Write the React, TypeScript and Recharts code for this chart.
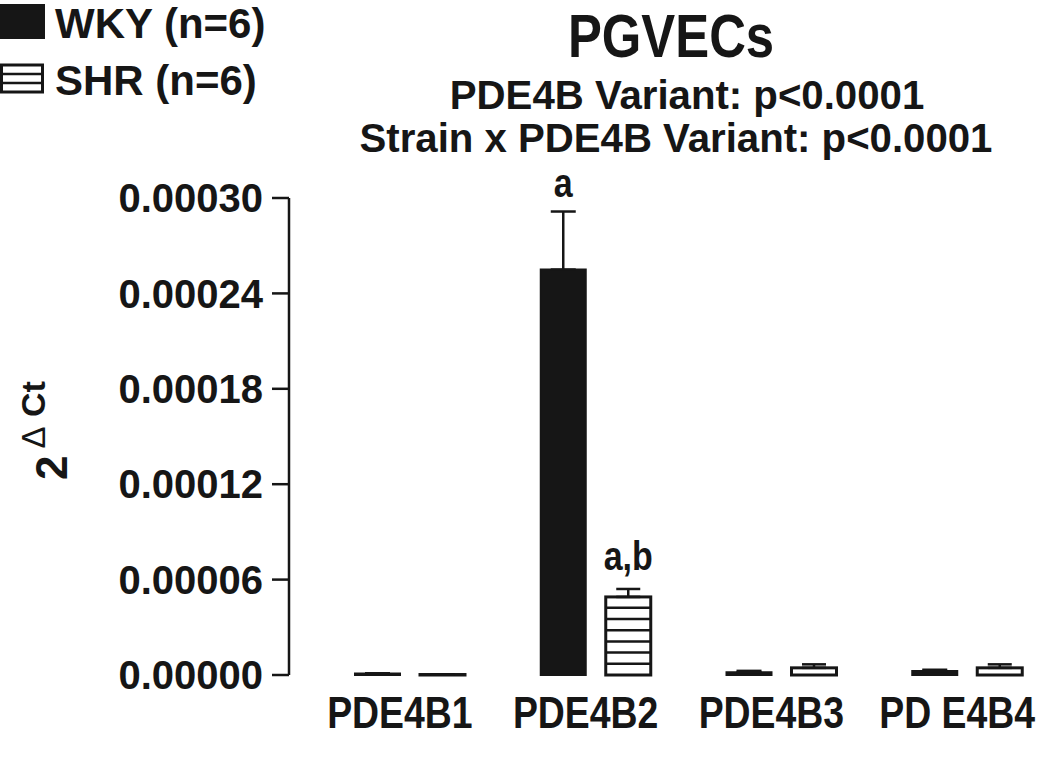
import { Bar, BarChart, ErrorBar, Label, LabelList, XAxis, YAxis } from 'recharts'

const INK = '#161616'
const FONT = "'Liberation Sans', Arial, sans-serif"

const categories = ['PDE4B1', 'PDE4B2', 'PDE4B3', 'PDE4B4']
const tickLabels = ['PDE4B1', 'PDE4B2', 'PDE4B3', 'PD E4B4']
const wky = [0.000001, 0.000255, 0.0000018, 0.0000025]
const wkySem = [0, 0.0000365, 0.0000008, 0.0000008]
const shr = [0.0000003, 0.0000491, 0.0000045, 0.0000045]
const shrSem = [0, 0.000005, 0.0000022, 0.0000022]
const wkyMarks = ['', 'a', '', '']
const shrMarks = ['', 'a,b', '', '']
const yTicks = [0, 0.00006, 0.00012, 0.00018, 0.00024, 0.0003]

const data = categories.map((name, i) => ({
  name,
  wky: wky[i],
  wkyErr: [0, wkySem[i]],
  wkyMark: wkyMarks[i],
  shr: shr[i],
  shrErr: [0, shrSem[i]],
  shrMark: shrMarks[i],
}))

const HATCH = 11.2

// white bar with horizontal stripes counted up from the baseline
function HatchBar(props: any) {
  const { x, y, width, height } = props
  const lines = []
  for (let ly = y + height - HATCH; ly > y + 3; ly -= HATCH) {
    lines.push(<line key={ly} x1={x} x2={x + width} y1={ly} y2={ly} stroke={INK} strokeWidth={2.5} />)
  }
  return (
    <g>
      <rect x={x} y={y} width={width} height={height} fill="#fff" stroke={INK} strokeWidth={3} />
      {lines}
    </g>
  )
}

function CategoryTick({ x, y, payload }: any) {
  return (
    <text
      transform={`translate(${x - 10},${y + 53}) scale(0.85,1)`}
      textAnchor="middle"
      fontSize={44}
      fontWeight="bold"
      fontFamily={FONT}
      fill={INK}
    >
      {tickLabels[payload.index]}
    </text>
  )
}

function YLabel({ viewBox }: any) {
  const cy = viewBox.y + viewBox.height / 2 - 6
  const bx = viewBox.x + 67
  return (
    <text
      transform={`translate(${bx},${cy}) rotate(-90)`}
      textAnchor="middle"
      fontFamily={FONT}
      fontWeight="bold"
      fill={INK}
    >
      <tspan fontSize={44}>2</tspan>
      <tspan dy={-22} dx={7} fontSize={33} fontWeight="normal">Δ</tspan>
      <tspan fontSize={34}> Ct</tspan>
    </text>
  )
}

const markLabel = (offset: number) => (props: any) => {
  const { x, y, width, value } = props
  if (!value) return null
  return (
    <text
      transform={`translate(${x + width / 2},${y - offset}) scale(0.85,1)`}
      textAnchor="middle"
      fontSize={40}
      fontWeight="bold"
      fontFamily={FONT}
      fill={INK}
    >
      {value}
    </text>
  )
}

export default function App() {
  return (
    <div style={{ position: 'absolute', left: 0, top: 0, width: 1050, height: 764, background: '#fff' }}>
      <BarChart
        width={1050}
        height={764}
        data={data}
        margin={{ top: 198, right: 0, bottom: 29, left: 0 }}
        barSize={45}
        barGap={20}
      >
        <XAxis
          dataKey="name"
          axisLine={false}
          tickLine={false}
          tickSize={0}
          tickMargin={0}
          height={60}
          padding={{ left: 28, right: -10 }}
          tick={<CategoryTick />}
          interval={0}
        />
        <YAxis
          width={289}
          domain={[0, 0.0003]}
          ticks={yTicks}
          interval={0}
          tickFormatter={(v: number) => v.toFixed(5)}
          tickSize={17}
          tickMargin={9}
          axisLine={{ stroke: INK, strokeWidth: 2.5 }}
          tickLine={{ stroke: INK, strokeWidth: 2.5 }}
          tick={{ fontSize: 40, fontWeight: 'bold', fontFamily: FONT, fill: INK }}
        >
          <Label content={<YLabel />} />
        </YAxis>
        <Bar dataKey="wky" fill={INK} stroke={INK} strokeWidth={2} isAnimationActive={false}>
          <ErrorBar dataKey="wkyErr" direction="y" width={12.5} stroke={INK} strokeWidth={2.5} />
          <LabelList dataKey="wkyMark" content={markLabel(73)} />
        </Bar>
        <Bar dataKey="shr" shape={<HatchBar />} isAnimationActive={false}>
          <ErrorBar dataKey="shrErr" direction="y" width={12} stroke={INK} strokeWidth={2.5} />
          <LabelList dataKey="shrMark" content={markLabel(27)} />
        </Bar>
      </BarChart>
      <svg
        width={1050}
        height={764}
        style={{ position: 'absolute', left: 0, top: 0, pointerEvents: 'none' }}
        fontFamily={FONT}
        fontWeight="bold"
        fill={INK}
      >
        <text transform="translate(671,57) scale(0.82,1)" textAnchor="middle" fontSize={62}>
          PGVECs
        </text>
        <text transform="translate(687,109) scale(0.98,1)" textAnchor="middle" fontSize={41}>
          PDE4B Variant: p&lt;0.0001
        </text>
        <text transform="translate(676,152) scale(0.98,1)" textAnchor="middle" fontSize={41}>
          Strain x PDE4B Variant: p&lt;0.0001
        </text>
        <rect x={0} y={4} width={45} height={35} fill={INK} />
        <text x={55} y={38} fontSize={42}>WKY (n=6)</text>
        <rect x={1.5} y={65} width={41} height={27} fill="#fff" stroke={INK} strokeWidth={3} />
        <line x1={1.5} x2={42.5} y1={74} y2={74} stroke={INK} strokeWidth={2.5} />
        <line x1={1.5} x2={42.5} y1={83} y2={83} stroke={INK} strokeWidth={2.5} />
        <text x={55} y={95} fontSize={42}>SHR (n=6)</text>
      </svg>
    </div>
  )
}
